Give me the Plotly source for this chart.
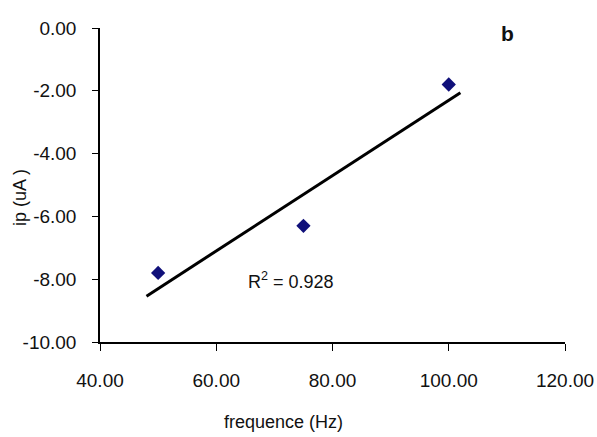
import numpy as np
import plotly.graph_objects as go

# Data
freq = [50, 75, 100]
ip = [-7.8, -6.3, -1.8]
trend_x_range = [48, 102]
r2_label = "R<sup>2</sup> = 0.928"

x_tickvals = [40, 60, 80, 100, 120]
x_ticktext = ["40.00", "60.00", "80.00", "100.00", "120.00"]
y_tickvals = [0, -2, -4, -6, -8, -10]
y_ticktext = ["0.00", "-2.00", "-4.00", "-6.00", "-8.00", "-10.00"]

slope, intercept = np.polyfit(freq, ip, 1)
tx = np.array(trend_x_range, dtype=float)
ty = slope * tx + intercept

font_family = "Liberation Sans, Arial, sans-serif"
text_color = "#111111"

fig = go.Figure()
fig.add_trace(go.Scatter(x=tx, y=ty, mode="lines",
                         line=dict(color="black", width=3), showlegend=False))
fig.add_trace(go.Scatter(x=freq, y=ip, mode="markers",
                         marker=dict(symbol="diamond", size=11, color="#10107a",
                                     line=dict(width=0)),
                         showlegend=False))

pl, pr, pt, pb = 100, 597 - 32, 28, 437 - 95


def ann(text, px, py, size, angle=0):
    return dict(text=text, x=(px - pl) / (pr - pl), y=(pb - py) / (pb - pt),
                xref="paper", yref="paper", xanchor="center", yanchor="middle",
                showarrow=False, textangle=angle,
                font=dict(family=font_family, size=size, color=text_color))


fig.update_layout(
    width=597, height=437,
    margin=dict(l=100, r=32, t=28, b=95, autoexpand=False),
    paper_bgcolor="white", plot_bgcolor="white",
    font=dict(family=font_family, size=19, color=text_color),
    xaxis=dict(range=[40, 120], tickvals=x_tickvals, ticktext=x_ticktext,
               automargin=False,
               showgrid=False, zeroline=False, showline=True, linecolor="black",
               linewidth=1.5, ticks="outside", ticklen=7, tickcolor="black",
               ticklabelstandoff=13,
               tickfont=dict(family=font_family, size=19, color=text_color)),
    yaxis=dict(range=[-10, 0], tickvals=y_tickvals, ticktext=y_ticktext,
               automargin=False,
               showgrid=False, zeroline=False, showline=True, linecolor="black",
               linewidth=1.5, ticks="outside", ticklen=6, tickcolor="black",
               ticklabelstandoff=12,
               tickfont=dict(family=font_family, size=19, color=text_color)),
    annotations=[
        ann("frequence (Hz)", 283, 422, 18),
        ann("ip (uA )", 20, 198, 18, -90),
        ann("<b>b</b>", 507, 33, 21),
        ann(r2_label, 291, 280, 18),
    ],
)

fig.write_html("out.html")
